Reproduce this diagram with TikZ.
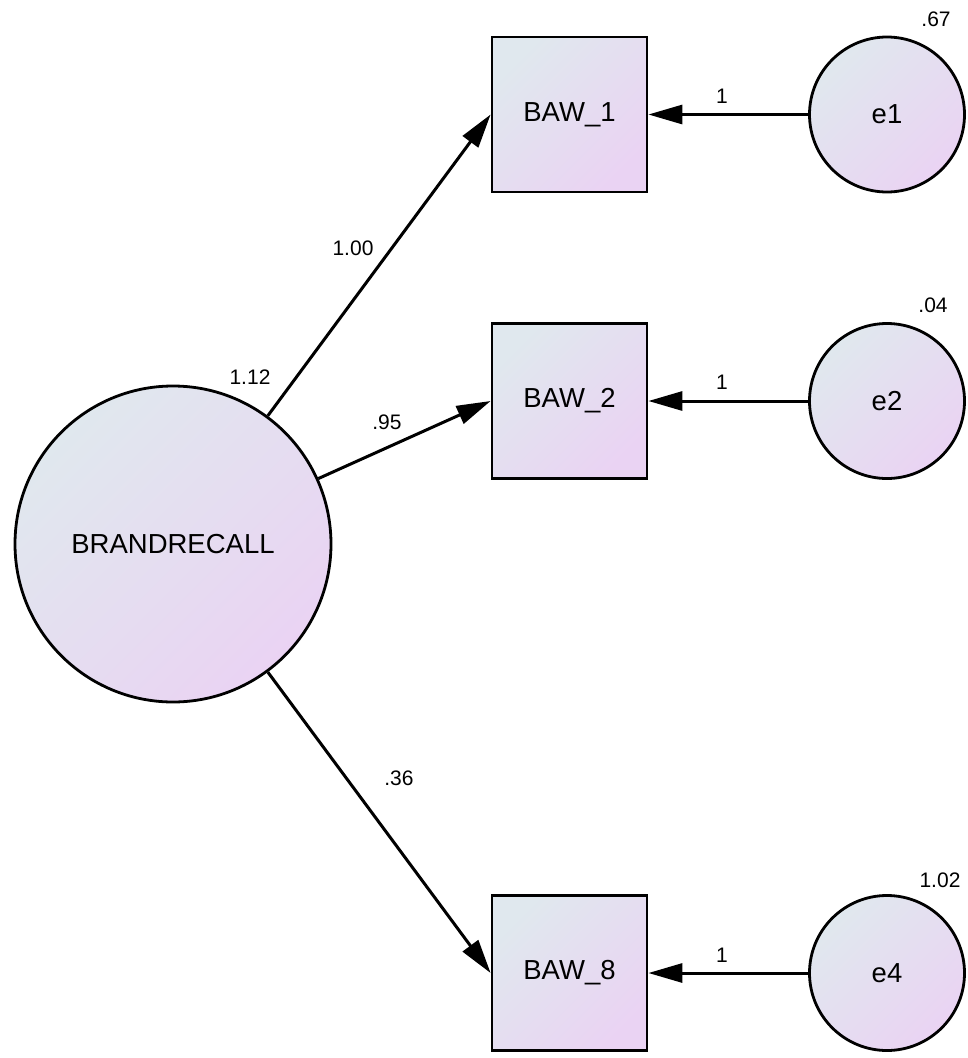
\documentclass[tikz,border=0pt]{standalone}
\usepackage{fontspec}
\setmainfont{Liberation Sans}
\usetikzlibrary{arrows.meta}
\definecolor{shadeA}{HTML}{E0E8EE}
\definecolor{shadeB}{HTML}{EAD3F3}
\tikzset{
  shaded/.style={draw=black, line width=2.8pt, top color=shadeA, bottom color=shadeB, shading angle=45},
  observed/.style={shaded, rectangle, minimum size=155pt, inner sep=0pt, font=\fontsize{27.5}{31}\selectfont},
  latent/.style={shaded, circle, inner sep=0pt, font=\fontsize{27.5}{31}\selectfont},
  errorvar/.style={latent, minimum size=155pt},
  estimate/.style={font=\fontsize{21}{25}\selectfont, inner sep=0pt},
  path/.style={line width=3pt, -{Triangle[length=34pt, width=19pt]}}
}
\begin{document}
\begin{tikzpicture}[x=1pt, y=-1pt]
\useasboundingbox (0,0) rectangle (967,1058);
% latent factor
\node[latent, minimum size=316pt] (br) at (173,544) {BRANDRECALL};
% indicators
\node[observed] (b1) at (569.5,114.5) {BAW\_1};
\node[observed] (b2) at (569.5,401) {BAW\_2};
\node[observed] (b8) at (569.5,973) {BAW\_8};
% error terms
\node[errorvar] (e1) at (887,114.5) {e1};
\node[errorvar] (e2) at (887,401) {e2};
\node[errorvar] (e4) at (887,973) {e4};
% loadings
\draw[path] (br) -- (b1.west);
\draw[path] (br) -- (b2.west);
\draw[path] (br) -- (b8.west);
\draw[path] (e1) -- (b1);
\draw[path] (e2) -- (b2);
\draw[path] (e4) -- (b8);
% estimates
\node[estimate] (l1) at (353,248) {1.00};
\node[estimate] (l2) at (387,422) {.95};
\node[estimate] (l8) at (399,778) {.36};
\node[estimate] (vbr) at (250,377) {1.12};
\node[estimate] (w1) at (722,96) {1};
\node[estimate] (w2) at (722,382) {1};
\node[estimate] (w4) at (722,955) {1};
\node[estimate] (v1) at (936,19) {.67};
\node[estimate] (v2) at (933,305) {.04};
\node[estimate] (v4) at (940,880) {1.02};
\end{tikzpicture}
\end{document}
